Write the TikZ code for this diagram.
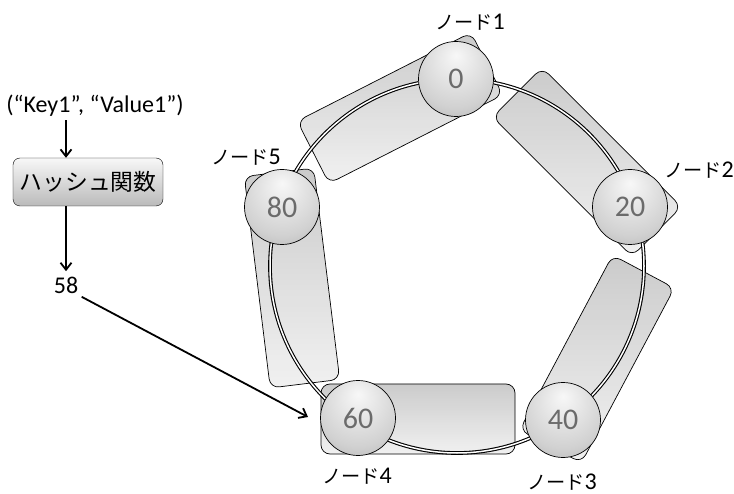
\documentclass[tikz,border=0pt]{standalone}
\usepackage{fontspec}
\setmainfont{Carlito}
\newfontfamily\cjk[Scale=0.8]{Noto Sans CJK JP}
\usetikzlibrary{arrows.meta}
% light spot sits above the middle of the ball
\pgfdeclareradialshading{ballgray}{\pgfpoint{0bp}{16bp}}{color(0bp)=(black!3); color(28bp)=(black!18); color(66bp)=(black!50)}
\tikzset{
  seg/.style={draw,rounded corners=9pt,minimum height=70pt,line width=.7pt,
    top color=black!22,bottom color=black!6,fill opacity=.92},
  ball/.style={circle,draw,minimum size=75pt,inner sep=0pt,line width=.7pt,
    shading=ballgray,text=black!58,font=\fontsize{30}{30}\selectfont},
  lbl/.style={font=\fontsize{24}{28}\selectfont},
  hashbox/.style={draw,rounded corners=7pt,minimum width=150pt,minimum height=48pt,
    top color=black!3,bottom color=black!27,font=\fontsize{28.5}{30}\selectfont},
  >={Straight Barb[length=7pt,width=11pt]}
}
\begin{document}
\begin{tikzpicture}[x=1pt,y=-1pt]
\useasboundingbox (0,0) rectangle (734,494);
% arcs between neighbouring nodes
\node[seg,minimum width=195pt,rotate=27] (s1) at (400,108){};
\node[seg,minimum width=197pt,rotate=-45] (s2) at (587,162){};
\node[seg,minimum width=198pt,rotate=62] (s3) at (597,359){};
\node[seg,minimum width=194pt] (s4) at (418,419){};
\node[seg,minimum width=213pt,rotate=97] (s5) at (292,278){};
\draw[line width=1.1pt,double=white,double distance=1.5pt] (457,266) circle[radius=187];
% the nodes on the ring
\node[ball] (b0) at (456,79){0};
\node[ball] (b20) at (630,207){20};
\node[ball] (b40) at (563,420){40};
\node[ball] (b60) at (358,418){60};
\node[ball] (b80) at (282,207){80};
\node[lbl] (n1) at (470,22){{\cjk ノード}1};
\node[lbl] (n2) at (699,170){{\cjk ノード}2};
\node[lbl] (n3) at (562,482){{\cjk ノード}3};
\node[lbl] (n4) at (357,476){{\cjk ノード}4};
\node[lbl] (n5) at (246,157){{\cjk ノード}5};
% hashing the key
\node[lbl] (key) at (95,106){(“Key1”, “Value1”)};
\node[hashbox] (hash) at (88,182){\cjk ハッシュ関数};
\node[lbl] (v58) at (66,285){58};
\coordinate (hit) at (308,417);
\draw[->,line width=1.8pt] (key.south-|v58)--(hash.north-|v58);
\draw[->,line width=1.8pt,shorten >=2pt] (hash.south-|v58)--(v58);
\draw[->,line width=1.8pt] (v58.south east)--(hit);
\end{tikzpicture}
\end{document}
